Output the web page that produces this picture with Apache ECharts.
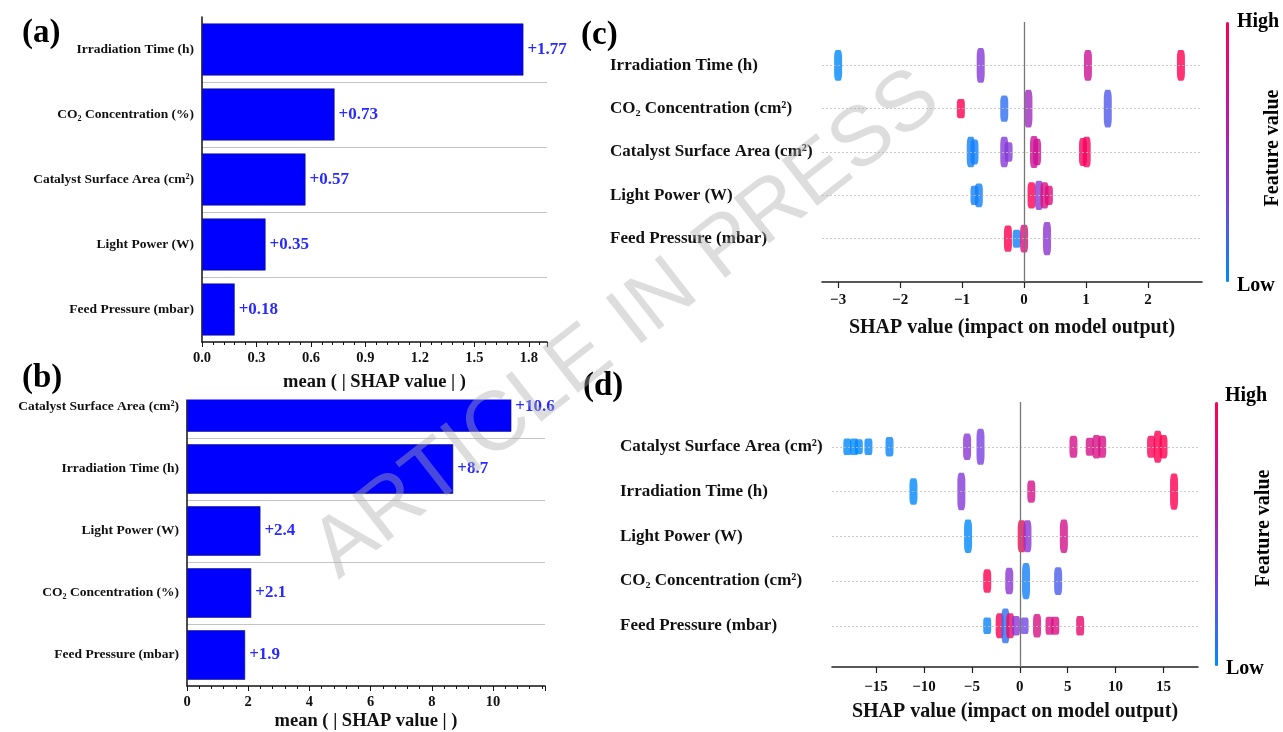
<!DOCTYPE html>
<html>
<head>
<meta charset="utf-8">
<title>SHAP feature importance</title>
<script src="https://cdn.jsdelivr.net/npm/echarts@6/dist/echarts.min.js"></script>
<style>
html, body { margin: 0; padding: 0; background: #fff; }
#chart { width: 1283px; height: 732px; }
</style>
</head>
<body>
<div id="chart"></div>
<script>
// (a) mean |SHAP| bars
const featuresA = ['Irradiation Time (h)', 'CO\u2082 Concentration (%)', 'Catalyst Surface Area (cm\u00b2)', 'Light Power (W)', 'Feed Pressure (mbar)']
const meanShapA = [1.77, 0.73, 0.57, 0.35, 0.18]

// (b) mean |SHAP| bars
const featuresB = ['Catalyst Surface Area (cm\u00b2)', 'Irradiation Time (h)', 'Light Power (W)', 'CO\u2082 Concentration (%)', 'Feed Pressure (mbar)']
const meanShapB = [10.6, 8.7, 2.4, 2.1, 1.9]

// (c) beeswarm clusters: [shap value, feature row, feature value 0..1, samples]
const featuresC = ['Irradiation Time (h)', 'CO\u2082 Concentration (cm\u00b2)', 'Catalyst Surface Area (cm\u00b2)', 'Light Power (W)', 'Feed Pressure (mbar)']
const clustersC = [
    [-3.0, 0, 0.0, 19], [-0.7, 0, 0.38, 22], [1.03, 0, 0.72, 19], [2.53, 0, 1.0, 19],
    [-1.02, 1, 1.0, 11], [-0.32, 1, 0.12, 16], [0.07, 1, 0.5, 24], [1.35, 1, 0.22, 24],
    [-0.86, 2, 0.05, 19], [-0.8, 2, 0.05, 15], [-0.32, 2, 0.38, 19], [-0.25, 2, 0.38, 11],
    [0.16, 2, 0.72, 20], [0.21, 2, 0.72, 16], [0.95, 2, 0.95, 17], [1.01, 2, 0.95, 19],
    [-0.8, 3, 0.05, 11], [-0.73, 3, 0.05, 14], [0.12, 3, 1.0, 16], [0.24, 3, 0.4, 18],
    [0.33, 3, 0.8, 16], [0.4, 3, 0.82, 11],
    [-0.26, 4, 1.0, 16], [-0.12, 4, 0.05, 10], [0.0, 4, 0.82, 17], [0.37, 4, 0.42, 21]
]
const ticksC = [-3, -2, -1, 0, 1, 2]

// (d) beeswarm clusters
const featuresD = ['Catalyst Surface Area (cm\u00b2)', 'Irradiation Time (h)', 'Light Power (W)', 'CO\u2082 Concentration (cm\u00b2)', 'Feed Pressure (mbar)']
const clustersD = [
    [-18.0, 0, 0.0, 9], [-17.3, 0, 0.0, 9], [-16.8, 0, 0.0, 8], [-15.8, 0, 0.02, 9], [-13.6, 0, 0.03, 11],
    [-5.5, 0, 0.4, 16], [-4.1, 0, 0.33, 23], [5.6, 0, 0.76, 13], [7.3, 0, 0.76, 10], [8.0, 0, 0.78, 14],
    [8.6, 0, 0.78, 13], [13.7, 0, 0.97, 13], [14.4, 0, 1.0, 20], [15.0, 0, 1.0, 14],
    [-11.1, 1, 0.0, 16], [-6.1, 1, 0.38, 24], [1.2, 1, 0.76, 13], [16.1, 1, 1.0, 23],
    [-5.4, 2, 0.0, 21], [0.2, 2, 1.0, 20], [0.8, 2, 0.42, 20], [4.6, 2, 0.76, 21],
    [-3.4, 3, 1.0, 14], [-1.1, 3, 0.42, 16], [0.65, 3, 0.05, 23], [4.0, 3, 0.2, 17],
    [-3.4, 4, 0.03, 9], [-2.1, 4, 1.0, 15], [-1.5, 4, 0.12, 22], [-1.0, 4, 0.9, 15], [-0.4, 4, 0.4, 11],
    [0.5, 4, 0.3, 9], [1.8, 4, 0.78, 14], [3.1, 4, 0.78, 10], [3.7, 4, 0.8, 10], [6.3, 4, 0.88, 11]
]
const ticksD = [-15, -10, -5, 0, 5, 10, 15]

const serif = '"Liberation Serif", "Times New Roman", serif'
const ink = '#111'
const shapColors = ['#008afb', '#7b3fe0', '#c2169f', '#ff0051']

const myChart = echarts.init(document.getElementById('chart'))

function minus(v) {
    return v < 0 ? '\u2212' + Math.abs(v) : String(v)
}

function barX(grid, max, interval, digits, nameGap, z) {
    return {
        type: 'value', gridIndex: grid, min: 0, max: max, interval: interval, z: z,
        axisLine: { show: true, onZero: false, lineStyle: { color: ink, width: 1.5 } },
        axisTick: { show: true, length: 5, lineStyle: { color: ink } },
        minorTick: { show: true, splitNumber: 5, length: 3, lineStyle: { color: ink } },
        splitLine: { show: false },
        axisLabel: {
            fontFamily: serif, fontWeight: 'bold', fontSize: 14.5, color: ink, margin: 9,
            showMaxLabel: false,
            formatter: v => v.toFixed(digits)
        },
        name: 'mean ( | SHAP value | )', nameLocation: 'middle', nameGap: nameGap,
        nameTextStyle: { fontFamily: serif, fontWeight: 'bold', fontSize: 18.5, color: ink }
    }
}

function barY(grid, names) {
    return {
        type: 'category', gridIndex: grid, data: names, inverse: true,
        axisLine: { lineStyle: { color: ink, width: 1.5 } },
        axisTick: { alignWithLabel: true, length: 5, lineStyle: { color: ink } },
        axisLabel: { fontFamily: serif, fontWeight: 'bold', fontSize: 13.5, color: ink, margin: 8 },
        splitLine: { show: true, showMinLine: false, showMaxLine: false, lineStyle: { color: '#c4c4c4', width: 1 } }
    }
}

function shapX(grid, min, max, ticks, margin, nameGap) {
    return {
        type: 'value', gridIndex: grid, min: min, max: max,
        axisLine: { show: true, onZero: false, lineStyle: { color: '#222', width: 1.6 } },
        axisTick: { show: true, customValues: ticks, length: 6, lineStyle: { color: '#222', width: 1.2 } },
        axisLabel: {
            customValues: ticks, formatter: minus, margin: margin,
            fontFamily: serif, fontWeight: 'bold', fontSize: 15, color: ink
        },
        splitLine: { show: false },
        name: 'SHAP value (impact on model output)', nameLocation: 'middle', nameGap: nameGap,
        nameTextStyle: { fontFamily: serif, fontWeight: 'bold', fontSize: 20, color: ink }
    }
}

function shapY(grid, names, max, margin) {
    return {
        type: 'value', gridIndex: grid, min: -1, max: max, inverse: true,
        axisLine: { show: false }, axisTick: { show: false }, splitLine: { show: false },
        axisLabel: {
            customValues: names.map((n, i) => i), formatter: v => names[v],
            align: 'left', margin: margin,
            fontFamily: serif, fontWeight: 'bold', fontSize: 17, color: ink
        }
    }
}

function swarm(index, clusters, names) {
    return {
        type: 'scatter', xAxisIndex: index, yAxisIndex: index,
        data: clusters,
        symbol: 'roundRect',
        symbolSize: d => [8, 4 + d[3] * 1.4],
        markLine: {
            silent: true, symbol: ['none', 'none'], label: { show: false },
            lineStyle: { color: '#bdbdbd', type: [2, 2], width: 0.8 },
            data: names.map((n, i) => ({ yAxis: i })).concat([
                { xAxis: 0, lineStyle: { color: '#777', type: 'solid', width: 1.3 } }
            ])
        }
    }
}

function txt(text, x, y, size, rotation, align) {
    return {
        type: 'text', x: x, y: y, z: 30, rotation: rotation || 0,
        style: {
            text: text, fill: '#000', align: align || 'left', verticalAlign: 'middle',
            font: 'bold ' + size + 'px ' + serif
        }
    }
}

let option = {
    animation: false,
    grid: [
        { left: 202, top: 17, width: 345, height: 325 },
        { left: 187, top: 376, width: 358, height: 310 },
        { left: 822, top: 22, width: 380, height: 260 },
        { left: 832, top: 402, width: 366, height: 265 }
    ],
    xAxis: [
        barX(0, 1.9, 0.3, 1, 31, 20),
        barX(1, 11.7, 2, 0, 26, 0),
        shapX(2, -3.26, 2.87, ticksC, 11, 36),
        shapX(3, -19.6, 18.6, ticksD, 13, 35)
    ],
    yAxis: [
        barY(0, featuresA),
        barY(1, featuresB),
        shapY(2, featuresC, 5, 212),
        shapY(3, featuresD, 4.92, 212)
    ],
    visualMap: [
        {
            type: 'continuous', seriesIndex: 2, dimension: 2, min: 0, max: 1,
            calculable: false, itemWidth: 3, itemHeight: 260, left: 1226, top: 22, padding: 0,
            inRange: { color: shapColors }
        },
        {
            type: 'continuous', seriesIndex: 3, dimension: 2, min: 0, max: 1,
            calculable: false, itemWidth: 3, itemHeight: 264, left: 1215, top: 402, padding: 0,
            inRange: { color: shapColors }
        }
    ],
    series: [
        {
            type: 'bar', xAxisIndex: 0, yAxisIndex: 0, data: meanShapA, barWidth: '80%',
            itemStyle: { color: '#0000ff', borderColor: '#1a1a60', borderWidth: 0.6 },
            label: {
                show: true, position: 'right', distance: 4, formatter: p => '+' + p.value,
                fontFamily: serif, fontWeight: 'bold', fontSize: 17, color: '#2a2aff'
            }
        },
        {
            type: 'bar', xAxisIndex: 1, yAxisIndex: 1, data: meanShapB, barWidth: '80%',
            itemStyle: { color: '#0000ff', borderColor: '#1a1a60', borderWidth: 0.6 },
            label: {
                show: true, position: 'right', distance: 4, formatter: p => '+' + p.value,
                fontFamily: serif, fontWeight: 'bold', fontSize: 17, color: '#2a2aff'
            }
        },
        swarm(2, clustersC, featuresC),
        swarm(3, clustersD, featuresD)
    ],
    graphic: [
        // top of panel (b) hidden under panel (a)
        { type: 'rect', z: 10, shape: { x: 184, y: 370, width: 380, height: 29.5 }, style: { fill: '#fff' } },
        txt('(a)', 22, 33, 33),
        txt('(b)', 22, 378, 33),
        txt('(c)', 581, 35, 33),
        txt('(d)', 583, 386, 33),
        txt('High', 1237, 22, 20),
        txt('Low', 1237, 286, 20),
        txt('Feature value', 1273, 148, 20, Math.PI / 2, 'center'),
        txt('High', 1225, 396, 20),
        txt('Low', 1226, 669, 20),
        txt('Feature value', 1264, 528, 20, Math.PI / 2, 'center'),
        {
            type: 'text', x: 627, y: 325, z: 100, rotation: 38 * Math.PI / 180,
            style: {
                text: 'ARTICLE IN PRESS', align: 'center', verticalAlign: 'middle',
                font: '84px "Liberation Sans", Arial, sans-serif', fill: 'rgba(175,175,175,0.42)'
            }
        }
    ]
}

myChart.setOption(option)
</script>
</body>
</html>
